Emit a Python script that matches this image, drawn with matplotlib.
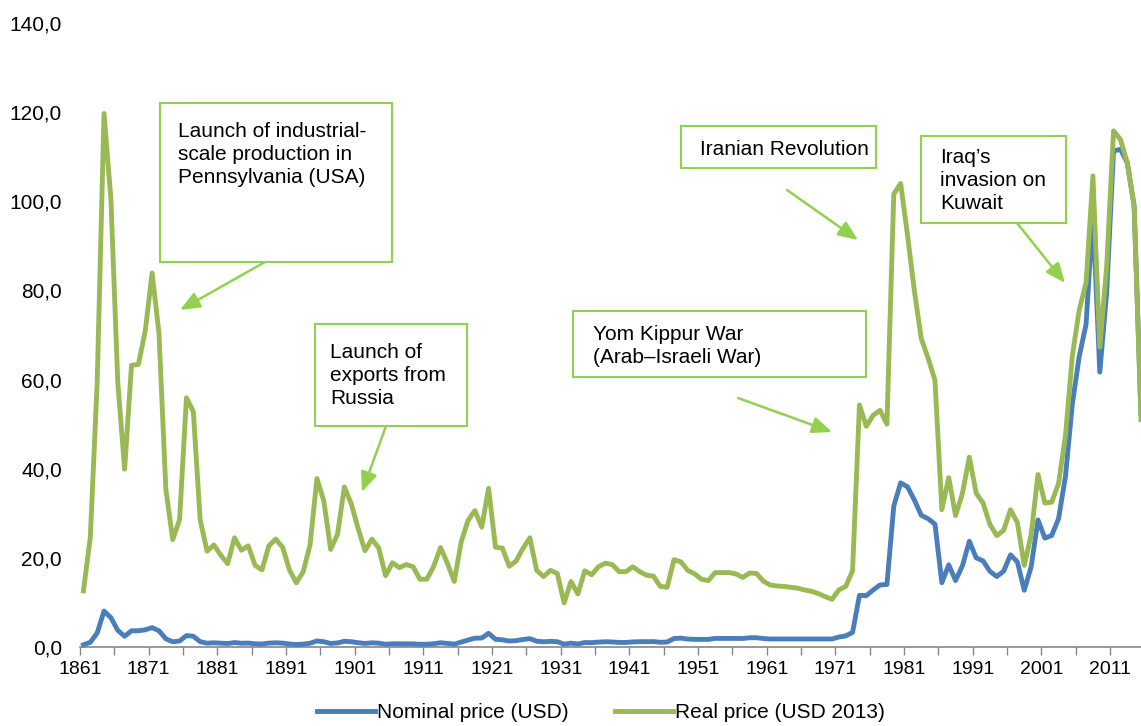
""" Crude oil prices 1861-2015, nominal and real (USD 2013), with key events. """

import matplotlib
matplotlib.use("Agg")
import matplotlib.pyplot as plt
from matplotlib import font_manager
from matplotlib.patches import Rectangle
import numpy as np

# ----- data (USD per barrel) -----
years = np.arange(1861, 2016)

nominal = [
    0.49, 1.05, 3.15, 8.06, 6.59, 3.74, 2.41, 3.63, 3.64, 3.86,  # 1861-1870
    4.34, 3.64, 1.83, 1.17, 1.35, 2.56, 2.42, 1.19, 0.86, 0.95,  # 1871-1880
    0.86, 0.78, 1.00, 0.84, 0.88, 0.71, 0.67, 0.88, 0.94, 0.87,  # 1881-1890
    0.67, 0.56, 0.64, 0.84, 1.36, 1.18, 0.79, 0.91, 1.29, 1.19,  # 1891-1900
    0.96, 0.80, 0.94, 0.86, 0.62, 0.73, 0.72, 0.72, 0.70, 0.61,  # 1901-1910
    0.61, 0.74, 0.95, 0.81, 0.64, 1.10, 1.56, 1.98, 2.01, 3.07,  # 1911-1920
    1.73, 1.61, 1.34, 1.43, 1.68, 1.88, 1.30, 1.17, 1.27, 1.19,  # 1921-1930
    0.65, 0.87, 0.67, 1.00, 0.97, 1.09, 1.18, 1.13, 1.02, 1.02,  # 1931-1940
    1.14, 1.19, 1.20, 1.21, 1.05, 1.12, 1.90, 1.99, 1.78, 1.71,  # 1941-1950
    1.71, 1.71, 1.93, 1.93, 1.93, 1.93, 1.90, 2.08, 2.08, 1.90,  # 1951-1960
    1.80, 1.80, 1.80, 1.80, 1.80, 1.80, 1.80, 1.80, 1.80, 1.80,  # 1961-1970
    2.24, 2.48, 3.29, 11.58, 11.53, 12.80, 13.92, 14.02, 31.61, 36.83,  # 1971-1980
    35.93, 32.97, 29.55, 28.78, 27.56, 14.43, 18.44, 14.92, 18.23, 23.73,  # 1981-1990
    20.00, 19.32, 16.97, 15.82, 17.02, 20.67, 19.09, 12.72, 17.97, 28.50,  # 1991-2000
    24.44, 25.02, 28.83, 38.27, 54.52, 65.14, 72.39, 97.26, 61.67, 79.50,  # 2001-2010
    111.26, 111.67, 108.66, 98.95, 52.39,  # 2011-2015
]

real_2013 = [
    12.6, 24.6, 59.3, 119.7, 100.5, 59.4, 39.9, 63.2, 63.4, 70.9,  # 1861-1870
    83.9, 70.4, 35.4, 24.1, 28.6, 55.9, 52.8, 28.5, 21.5, 22.9,  # 1871-1880
    20.6, 18.7, 24.5, 21.7, 22.7, 18.3, 17.3, 22.7, 24.2, 22.4,  # 1881-1890
    17.3, 14.4, 16.9, 22.9, 37.8, 32.8, 21.9, 25.3, 35.9, 32.1,  # 1891-1900
    26.6, 21.6, 24.2, 22.2, 16.0, 18.9, 17.8, 18.5, 18.0, 15.2,  # 1901-1910
    15.2, 18.1, 22.3, 18.8, 14.7, 23.5, 28.4, 30.6, 26.9, 35.6,  # 1911-1920
    22.4, 22.2, 18.1, 19.3, 22.1, 24.5, 17.2, 15.8, 17.2, 16.5,  # 1921-1930
    9.9, 14.7, 11.9, 17.1, 16.2, 18.0, 18.8, 18.5, 16.9, 16.9,  # 1931-1940
    18.0, 16.9, 16.1, 15.9, 13.6, 13.4, 19.6, 19.1, 17.2, 16.4,  # 1941-1950
    15.2, 14.9, 16.7, 16.7, 16.7, 16.4, 15.6, 16.6, 16.5, 14.8,  # 1951-1960
    13.9, 13.7, 13.6, 13.4, 13.2, 12.8, 12.5, 12.0, 11.3, 10.7,  # 1961-1970
    12.8, 13.6, 17.1, 54.3, 49.5, 52.0, 53.1, 50.0, 101.6, 104.0,  # 1971-1980
    92.4, 79.9, 69.2, 64.8, 59.8, 30.8, 38.0, 29.5, 34.5, 42.6,  # 1981-1990
    34.5, 32.3, 27.5, 25.0, 26.2, 30.8, 27.9, 18.3, 25.2, 38.7,  # 1991-2000
    32.3, 32.5, 36.7, 47.4, 65.3, 75.6, 81.7, 105.7, 67.3, 85.3,  # 2001-2010
    115.8, 113.9, 108.7, 98.9, 51.0,  # 2011-2015
]

series_labels = ["Nominal price (USD)", "Real price (USD 2013)"]

# event call-outs: box (left, top, right, bottom) in pixels from top-left,
# text position, arrow start and arrow tip
events = [
    ("Launch of industrial-\nscale production in\nPennsylvania (USA)",
     (160, 103, 392, 262), (178, 122), (265, 262), (180, 310)),
    ("Launch of\nexports from\nRussia",
     (315, 324, 467, 426), (330, 343), (386, 426), (362, 492)),
    ("Yom Kippur War\n(Arab\u2013Israeli War)",
     (573, 311, 866, 377), (593, 325), (738, 398), (832, 432)),
    ("Iranian Revolution",
     (681, 126, 876, 168), (700, 140), (787, 190), (858, 240)),
    ("Iraq\u2019s\ninvasion on\nKuwait",
     (921, 136, 1066, 223), (940, 148), (1017, 223), (1065, 283)),
]

BLUE = "#4A7EBB"
GREEN = "#98B954"
CALLOUT = "#92D050"
AXIS_GREY = "#868686"

W, H = 1141, 726

installed = {f.name for f in font_manager.fontManager.ttflist}
main_font = "Liberation Sans" if "Liberation Sans" in installed else "DejaVu Sans"
narrow_font = "Liberation Sans Narrow" if "Liberation Sans Narrow" in installed else main_font
plt.rcParams["font.family"] = [main_font, "DejaVu Sans"]


def main():
    fig = plt.figure(figsize=(W / 100, H / 100), dpi=100)
    ax = fig.add_axes([80 / W, (H - 647) / H, 1 - 80 / W, (647 - 23) / H])

    ax.plot(years, nominal, color=BLUE, lw=3.5, label=series_labels[0],
            solid_joinstyle="round", clip_on=False, zorder=3)
    ax.plot(years, real_2013, color=GREEN, lw=3.5, label=series_labels[1],
            solid_joinstyle="round", clip_on=False, zorder=4)

    ax.set_xlim(1860.5, 2015)
    ax.set_ylim(0, 140)

    # category-style axis: ticks sit between the yearly points
    major = np.arange(1861, 2016, 10) - 0.5
    minor = np.arange(1866, 2016, 10) - 0.5
    ax.set_xticks(major)
    ax.set_xticklabels([str(int(m + 0.5)) for m in major], fontsize=14)
    ax.set_xticks(minor, minor=True)
    ax.tick_params(axis="x", which="both", direction="out", length=6,
                   width=1, color=AXIS_GREY, pad=4)

    yt = np.arange(0, 141, 20)
    ax.set_yticks(yt)
    ax.set_yticklabels([f"{v:.1f}".replace(".", ",") for v in yt], fontsize=15)
    ax.tick_params(axis="y", length=0, pad=13)

    for side in ["top", "right", "left"]:
        ax.spines[side].set_visible(False)
    ax.spines["bottom"].set_color(AXIS_GREY)
    ax.spines["bottom"].set_linewidth(1.2)

    # call-out boxes with arrows
    for text, box, txt_pos, start, tip in events:
        left, top, right, bottom = box
        fig.patches.append(Rectangle((left / W, 1 - bottom / H),
                                     (right - left) / W, (bottom - top) / H,
                                     transform=fig.transFigure, fill=True,
                                     facecolor="white", edgecolor=CALLOUT,
                                     lw=1.5, zorder=5))
        fig.text(txt_pos[0] / W, 1 - txt_pos[1] / H, text, fontsize=15,
                 ha="left", va="top", linespacing=1.27, zorder=6)
        ax.annotate("", xy=(tip[0], H - tip[1]), xytext=(start[0], H - start[1]),
                    xycoords="figure pixels", textcoords="figure pixels",
                    arrowprops=dict(arrowstyle="-|>,head_length=0.6,head_width=0.25",
                                    color=CALLOUT, lw=1.8, mutation_scale=20,
                                    shrinkA=0, shrinkB=0))

    fig.legend(loc="center", bbox_to_anchor=(601 / W, 13 / H), ncol=2,
               frameon=False, handlelength=2.8, handletextpad=0.1,
               columnspacing=2.2, prop={"family": narrow_font, "size": 15})

    fig.savefig("out.png", dpi=100)


if __name__ == "__main__":
    main()
